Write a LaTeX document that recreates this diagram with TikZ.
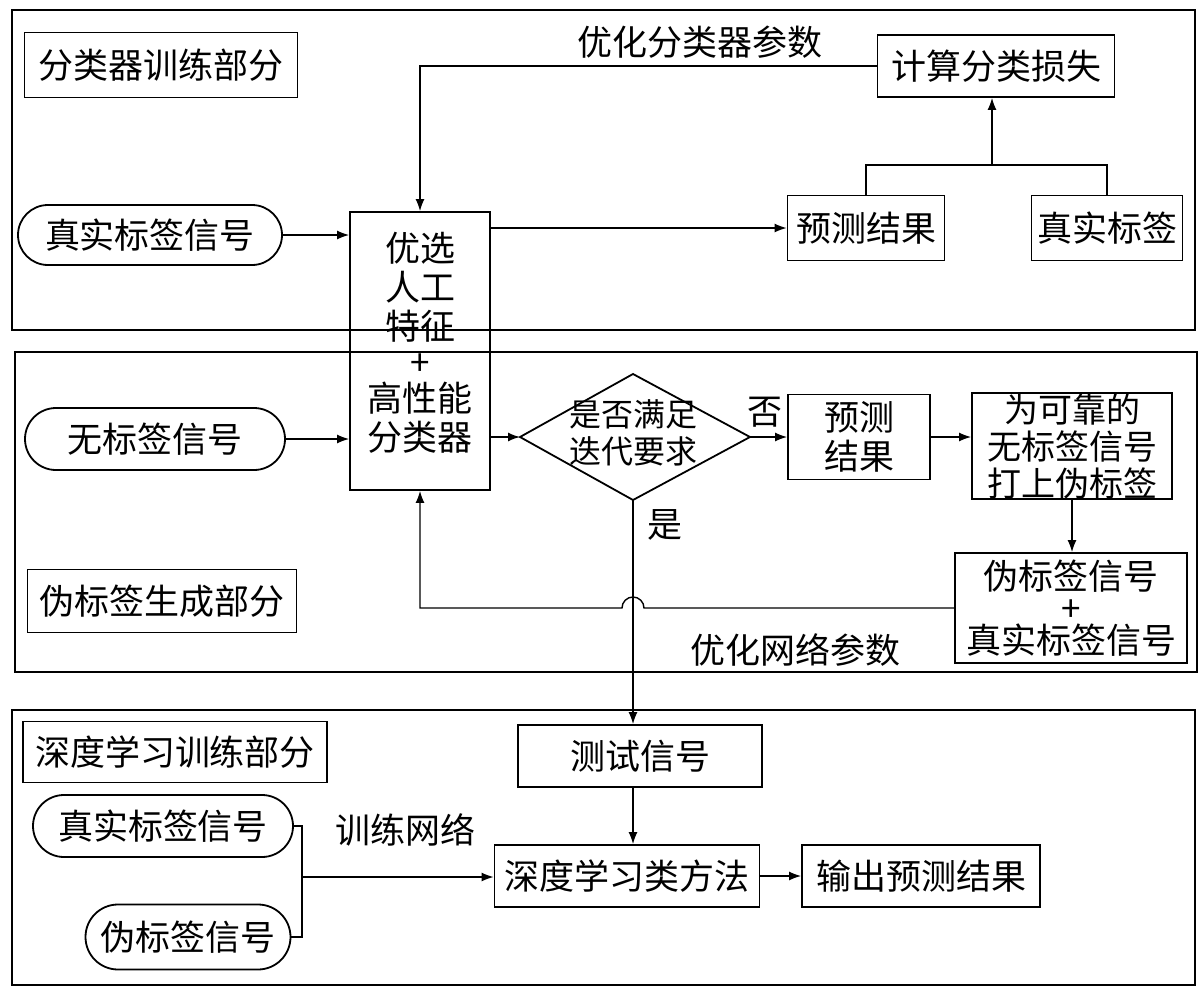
\documentclass[tikz,border=0pt]{standalone}
\usepackage{fontspec}
\setmainfont{Noto Sans CJK SC}
\usetikzlibrary{arrows.meta,shapes.misc}
\begin{document}
\begin{tikzpicture}[x=1pt,y=-1pt,
 every node/.style={font=\fontsize{35}{39}\selectfont, inner sep=0pt, align=center},
 box/.style={draw, line width=1.8pt},
 pill/.style={draw, line width=1.8pt, rounded rectangle},
 frame/.style={draw, line width=1.5pt},
 conn/.style={line width=1.4pt},
 arr/.style={conn, -{Latex[length=12pt,width=9pt]}}]
\useasboundingbox (0,0) rectangle (1200,990);
% frames
\draw[frame] (12,10) rectangle (1195,330);
\draw[frame] (15,352) rectangle (1197,672);
\draw[frame] (12,710) rectangle (1195,985);

% section 1
\node[box, minimum width=273, minimum height=65] (lab1) at (161,65) {分类器训练部分};
\node (opt1) at (700,42) {优化分类器参数};
\node[box, minimum width=237, minimum height=62] (loss) at (996,66) {计算分类损失};
\node[pill, minimum width=264, minimum height=60] (real1) at (150,235) {真实标签信号};
\node[box, minimum width=140, minimum height=278] (clf) at (420,351) {};
\node (clftxt) at (420,343) {优选\\人工\\特征\\[-3pt]+\\[-3pt]高性能\\分类器};
\node[box, minimum width=157, minimum height=65] (pred1) at (866,228) {预测结果};
\node[box, minimum width=151, minimum height=65] (real2) at (1107,228) {真实标签};
\coordinate (join) at (992,165);
\draw[conn] (pred1.north) |- (join) -| (real2.north);
\draw[arr] (join) -- (join |- loss.south);
\draw[arr] (loss.west) -| (clf.north);
\draw[arr] (clf.east |- pred1) -- (pred1.west);
\draw[arr] (real1.east) -- (clf.west |- real1.east);

% section 2
\node[pill, minimum width=260, minimum height=62] (unl) at (155,439) {无标签信号};
\draw[arr] (unl.east) -- (clf.west |- unl.east);
\coordinate (dL) at (520,437);
\coordinate (dR) at (750,437);
\coordinate (dT) at (633,374);
\coordinate (dB) at (633,500);
\draw[line width=1.8pt] (dL) -- (dT) -- (dR) -- (dB) -- cycle;
\node[font=\fontsize{32}{37}\selectfont] (dec) at (633,433) {是否满足\\迭代要求};
\draw[arr] (clf.east |- dL) -- (dL);
\node (no) at (765,412) {否};
\node[box, minimum width=142, minimum height=85] (pred2) at (859,437) {预测\\结果};
\draw[arr] (dR) -- (pred2.west);
\node[box, minimum width=200, minimum height=103, font=\fontsize{34}{37}\selectfont] (tag) at (1072,446) {为可靠的\\无标签信号\\打上伪标签};
\draw[arr] (pred2.east) -- (tag.west |- pred2.east);
\node[box, minimum width=232, minimum height=110] (pseudo) at (1071,608) {伪标签信号\\[-7pt]+\\[-7pt]真实标签信号};
\draw[arr] (tag.south) -- (tag.south |- pseudo.north);
\coordinate (hop) at (633,608);
\draw[arr] (pseudo.west |- hop) -- ([xshift=11pt]hop) arc[start angle=0, end angle=-180, radius=11] -- (clf.south |- hop) -- (clf.south);
\node (optnet) at (795,650) {优化网络参数};
\node[box, minimum width=269, minimum height=63] (lab2) at (162,601) {伪标签生成部分};
\node (yes) at (665,525) {是};

% section 3
\node[box, minimum width=304, minimum height=61] (lab3) at (175,752) {深度学习训练部分};
\node[box, minimum width=244, minimum height=62] (test) at (640,756) {测试信号};
\node[box, minimum width=265, minimum height=62] (dl) at (627,876) {深度学习类方法};
\node[box, minimum width=238, minimum height=62] (out) at (921,876) {输出预测结果};
\draw[arr] (dB) -- (dB |- test.north);
\draw[arr] (test.south -| dB) -- (dl.north -| dB);
\draw[arr] (dl.east) -- (out.west);
\node[pill, minimum width=260, minimum height=62] (real3) at (163,826) {真实标签信号};
\node[pill, minimum width=205, minimum height=65] (pl3) at (188,937) {伪标签信号};
\coordinate (br) at (302,877);
\draw[conn] (real3.east) -| (br) |- (pl3.east);
\draw[arr] (br) -- (dl.west |- br);
\node (train) at (405,830) {训练网络};
\end{tikzpicture}
\end{document}
